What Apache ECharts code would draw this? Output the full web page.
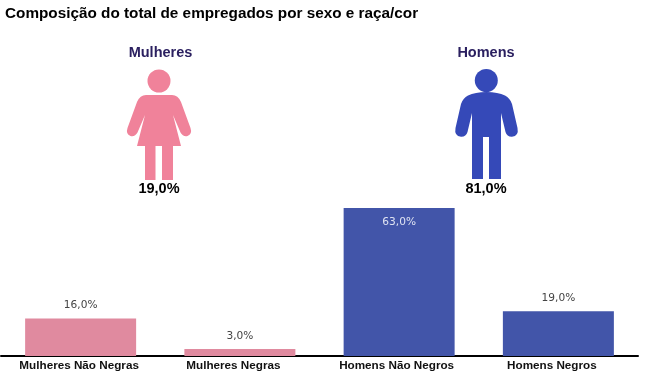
<!DOCTYPE html>
<html><head><meta charset="utf-8">
<style>html,body{margin:0;padding:0;background:#fff}#c{width:655px;height:374px}</style>
<script src="https://cdn.jsdelivr.net/npm/echarts@6/dist/echarts.min.js"></script>
</head><body><div id="c"></div>
<script>
const categories = ['Mulheres Não Negras','Mulheres Negras','Homens Não Negros','Homens Negros'];
const values = [16, 3, 63, 19];
const barColors = ['#e08a9f','#e08a9f','#4255a9','#4255a9'];
const insideBars = [false,false,true,false];
const labelStyleKeys = ['a','b','c','b'];
const title = 'Composição do total de empregados por sexo e raça/cor';
const groupNames = ['Mulheres','Homens'];
const groupTotals = ['19,0%','81,0%'];
const sans = '"Liberation Sans", Arial, sans-serif';
const womanPath = 'M146,95 L172,95 Q178,95 181,102 L190.5,128 Q192.5,134 187.5,136 Q183,137 180.5,132.5 L173,115 L181,146 L173,146 L173,180 L162,180 L162,146 L155.5,146 L155.5,180 L145,180 L145,146 L137,146 L145,115 L137.5,132.5 Q135,137 130.5,136 Q125.5,134 127.5,128 L137,102 Q140,95 146,95 Z';
const manPath = 'M486.5,92 Q498,92 505,95.5 Q510,98 512,104 L517.5,128 Q519,136 512,136.8 Q507,137 505.5,132 L501,113 L501,179 L489,179 L489,137 L483,137 L483,179 L472,179 L472,113 L467.5,132 Q466,137 461,136.8 Q454,136 455.5,128 L461,104 Q463,98 468,95.5 Q475,92 486.5,92 Z';
echarts.graphic.registerShape('womanFigure', echarts.graphic.extendPath(womanPath, {}));
echarts.graphic.registerShape('manFigure', echarts.graphic.extendPath(manPath, {}));
const fmt = v => v.toFixed(1).replace('.', ',') + '%';
const catLabel = {color:'#111',fontFamily:sans,fontWeight:'bold',fontSize:11.7};
const chart = echarts.init(document.getElementById('c'), null, {renderer:'canvas'});
chart.setOption({
  animation:false,
  backgroundColor:'#fff',
  grid:{left:1,top:208,width:637,height:148},
  xAxis:{type:'category',data:categories,
    axisLine:{lineStyle:{color:'#000',width:2}},axisTick:{show:false},
    axisLabel:{margin:4,interval:0,
      formatter:(v,i)=>'{'+labelStyleKeys[i]+'|'+v+'}',
      rich:{
        a:{...catLabel,padding:[0,3,0,0]},
        b:{...catLabel,padding:[0,13,0,0]},
        c:{...catLabel,padding:[0,5,0,0]}
      }}},
  yAxis:{type:'value',min:0,max:63,show:false,splitLine:{show:false}},
  series:[{type:'bar',barWidth:111,
    data:values.map((v,i)=>({value:v,itemStyle:{color:barColors[i]},
      label:{show:true,position:insideBars[i]?'insideTop':'top',
        distance:insideBars[i]?9:7.5,
        color:insideBars[i]?'#dfe3f2':'#444',
        fontFamily:'"DejaVu Sans", sans-serif',fontSize:10.6,formatter:p=>fmt(p.value)}}))}],
  graphic:[
    {type:'text',x:5,y:6,style:{text:title,font:'bold 15.3px '+sans,fill:'#000'}},
    {type:'text',x:160.5,y:45,style:{text:groupNames[0],font:'bold 14.5px '+sans,fill:'#2b2060',align:'center'}},
    {type:'text',x:486,y:45,style:{text:groupNames[1],font:'bold 14.5px '+sans,fill:'#2b2060',align:'center'}},
    {type:'circle',shape:{cx:159,cy:81,r:11.5},style:{fill:'#f0829a'}},
    {type:'womanFigure',style:{fill:'#f0829a'}},
    {type:'circle',shape:{cx:486.3,cy:80.5,r:11.5},style:{fill:'#3549b8'}},
    {type:'manFigure',style:{fill:'#3549b8'}},
    {type:'text',x:159,y:181,style:{text:groupTotals[0],font:'bold 14.5px '+sans,fill:'#000',align:'center'}},
    {type:'text',x:486,y:181,style:{text:groupTotals[1],font:'bold 14.5px '+sans,fill:'#000',align:'center'}}
  ]
});
</script></body></html>
